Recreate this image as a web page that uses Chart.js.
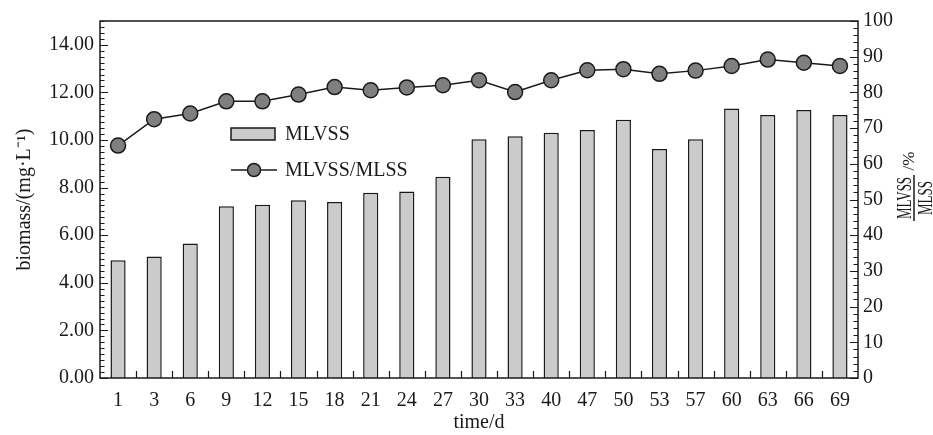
<!DOCTYPE html>
<html>
<head>
<meta charset="utf-8">
<script src="https://cdn.jsdelivr.net/npm/chart.js@4.4.0/dist/chart.umd.min.js"></script>
<style>
  html, body { margin: 0; padding: 0; background: #fff; }
  canvas { display: block; }
</style>
</head>
<body>
<canvas id="bioChart" width="933" height="435"></canvas>
<script>
// Dữ liệu
const days = ['1', '3', '6', '9', '12', '15', '18', '21', '24', '27', '30', '33', '40', '47', '50', '53', '57', '60', '63', '66', '69'];
const mlvss = [4.95, 5.10, 5.65, 7.22, 7.28, 7.47, 7.40, 7.78, 7.84, 8.46, 10.03, 10.16, 10.30, 10.42, 10.85, 9.62, 10.03, 11.32, 11.05, 11.26, 11.05];
const ratio = [65.1, 72.5, 74.1, 77.5, 77.5, 79.4, 81.5, 80.6, 81.4, 82.0, 83.4, 80.1, 83.4, 86.2, 86.5, 85.2, 86.1, 87.4, 89.2, 88.3, 87.4];

const SERIF = "'Liberation Serif', 'Times New Roman', serif";
const INK = '#1a1a1a';
const BAR_FILL = '#cbcbcb';
const DOT_FILL = '#7f7f7f';

// Vẽ khung, vạch chia, chú thích và nhãn trục phải
const framePlugin = {
    id: 'frame',
    afterDraw(chart) {
        const c = chart.ctx;
        const a = chart.chartArea;
        const x = chart.scales.x, y = chart.scales.y, y1 = chart.scales.y1;
        c.save();
        c.strokeStyle = INK;
        c.lineWidth = 1.5;
        c.strokeRect(a.left, a.top, a.right - a.left, a.bottom - a.top);

        c.lineWidth = 1.2;
        c.beginPath();
        // trục trái: vạch nhỏ mỗi 0.25
        for (let i = 0; i <= 60; i++) {
            const v = i * 0.25;
            const py = Math.round(y.getPixelForValue(v)) + 0.5;
            const len = (i % 8 === 0) ? 8 : 4.5;
            c.moveTo(a.left, py); c.lineTo(a.left + len, py);
        }
        // trục phải: vạch nhỏ mỗi 2
        for (let v = 0; v <= 100; v += 2) {
            const py = Math.round(y1.getPixelForValue(v)) + 0.5;
            const len = (v % 10 === 0) ? 8 : 4.5;
            c.moveTo(a.right, py); c.lineTo(a.right - len, py);
        }
        // trục x: vạch giữa các cột
        for (let i = 0; i < days.length - 1; i++) {
            const px = Math.round((x.getPixelForValue(i) + x.getPixelForValue(i + 1)) / 2) + 0.5;
            c.moveTo(px, a.bottom); c.lineTo(px, a.bottom - 7);
        }
        c.stroke();

        // chú thích
        c.lineWidth = 1.5;
        c.fillStyle = BAR_FILL;
        c.fillRect(231, 128, 44, 12);
        c.strokeRect(231, 128, 44, 12);
        c.beginPath();
        c.moveTo(231, 170); c.lineTo(277, 170);
        c.stroke();
        c.beginPath();
        c.arc(254, 170, 6.5, 0, Math.PI * 2);
        c.fillStyle = DOT_FILL;
        c.fill();
        c.stroke();
        c.fillStyle = INK;
        c.font = '20px ' + SERIF;
        c.textBaseline = 'middle';
        c.textAlign = 'left';
        c.fillText('MLVSS', 285, 135);
        c.fillText('MLVSS/MLSS', 285, 171);

        // nhãn trục phải dạng phân số
        c.translate(913, 198);
        c.rotate(-Math.PI / 2);
        c.save();
        c.scale(0.62, 1);
        c.textAlign = 'center';
        c.font = '21px ' + SERIF;
        c.fillText('MLVSS', 0, -8);
        c.fillText('MLSS', 0, 13);
        c.beginPath();
        c.moveTo(-37, 1); c.lineTo(37, 1);
        c.stroke();
        c.restore();
        c.textAlign = 'center';
        c.font = '17px ' + SERIF;
        c.fillText('/%', 37, -3);
        c.restore();
    }
};

const ctx = document.getElementById('bioChart').getContext('2d');
const bioChart = new Chart(ctx, {
    data: {
        labels: days,
        datasets: [{
            type: 'line',
            label: 'MLVSS/MLSS',
            data: ratio,
            yAxisID: 'y1',
            borderColor: INK,
            borderWidth: 1.5,
            pointRadius: 7.5,
            pointBackgroundColor: DOT_FILL,
            pointBorderColor: INK,
            pointBorderWidth: 1.5,
            order: 0
        }, {
            type: 'bar',
            label: 'MLVSS',
            data: mlvss,
            yAxisID: 'y',
            backgroundColor: BAR_FILL,
            borderColor: INK,
            borderWidth: 1.5,
            barPercentage: 0.42,
            categoryPercentage: 1,
            order: 1
        }]
    },
    options: {
        responsive: false,
        animation: false,
        layout: { padding: { top: 21, left: 0, right: 0, bottom: 0 } },
        plugins: { legend: { display: false }, tooltip: { enabled: false } },
        scales: {
            x: {
                grid: { display: false },
                border: { display: false },
                ticks: { color: INK, font: { family: SERIF, size: 20 }, padding: 3, maxRotation: 0, autoSkip: false },
                title: { display: true, text: 'time/d', color: INK, font: { family: SERIF, size: 20 }, padding: { top: 0, bottom: 0 } },
                afterFit: s => { s.height = 57; }
            },
            y: {
                position: 'left',
                min: 0,
                max: 15,
                grid: { display: false, drawTicks: false },
                border: { display: false },
                afterBuildTicks: s => { s.ticks = s.ticks.filter(t => t.value % 2 === 0); },
                ticks: { stepSize: 2, color: INK, font: { family: SERIF, size: 20 }, padding: 6, callback: v => v.toFixed(2) },
                title: { display: true, text: 'biomass/(mg·L⁻¹)', color: INK, font: { family: SERIF, size: 20 }, padding: { top: 13, bottom: 0 } },
                afterFit: s => { s.width = 100; }
            },
            y1: {
                position: 'right',
                min: 0,
                max: 100,
                grid: { display: false, drawTicks: false },
                border: { display: false },
                ticks: { stepSize: 10, color: INK, font: { family: SERIF, size: 20 }, padding: 5 },
                afterFit: s => { s.width = 75; }
            }
        }
    },
    plugins: [framePlugin]
});
</script>
</body>
</html>
